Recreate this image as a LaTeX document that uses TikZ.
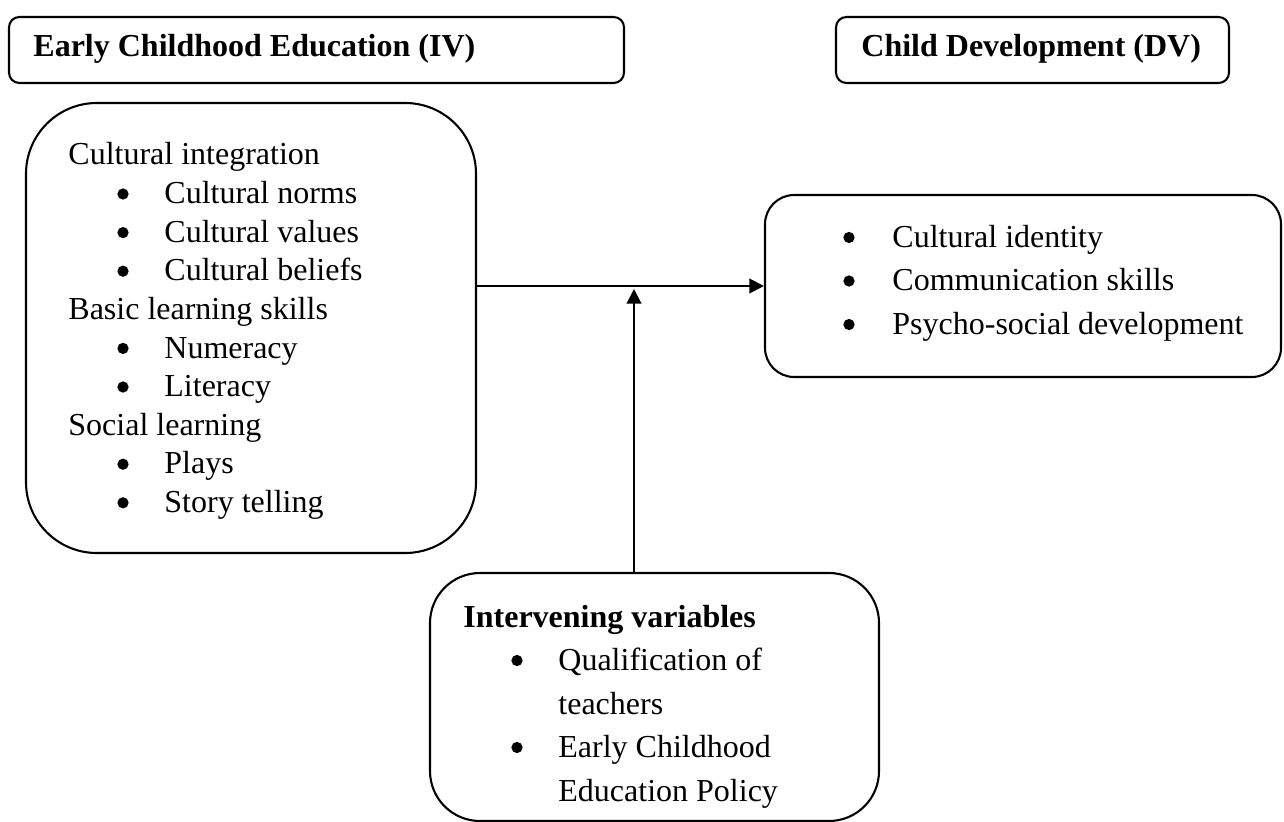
\documentclass[tikz,border=0pt]{standalone}
\usepackage{fontspec}
\setmainfont{Liberation Serif}
\usetikzlibrary{arrows.meta}
\begin{document}
\begin{tikzpicture}[x=0.48pt,y=-0.48pt,
  box/.style={draw, line width=1pt, rounded corners=#1, inner sep=0pt},
  txt/.style={anchor=base west, inner sep=0pt, font=\fontsize{15.36}{18}\selectfont},
  btxt/.style={txt, font=\fontsize{15.36}{18}\selectfont\bfseries},
  bul/.style={circle, fill=black, inner sep=0pt, minimum size=5.4pt},
  arr/.style={line width=1pt, -{Triangle[length=7pt,width=7pt]}}]
\useasboundingbox (0,0) rectangle (1284,822);
\clip (0,0) rectangle (1284,822);
% title boxes
\node[box=5pt, minimum width=615*0.48pt, minimum height=66*0.48pt] (tb1) at (316.5,50) {};
\node[btxt] (t1) at (33,57) {Early Childhood Education (IV)};
\node[box=5pt, minimum width=393*0.48pt, minimum height=66*0.48pt] (tb2) at (1032.5,50) {};
\node[btxt] (t2) at (861,57) {Child Development (DV)};
% left box
\node[box=34pt, minimum width=450*0.48pt, minimum height=450*0.48pt] (lbox) at (251,328) {};
\node[txt] (l1) at (68,165) {Cultural integration};
\node[bul] (lb1) at (123,194) {};
\node[txt] (l2) at (164,203.6) {Cultural norms};
\node[bul] (lb2) at (123,232.6) {};
\node[txt] (l3) at (164,242.2) {Cultural values};
\node[bul] (lb3) at (123,271.2) {};
\node[txt] (l4) at (164,280.8) {Cultural beliefs};
\node[txt] (l5) at (68,319.4) {Basic learning skills};
\node[bul] (lb5) at (123,348.4) {};
\node[txt] (l6) at (164,358) {Numeracy};
\node[bul] (lb6) at (123,387) {};
\node[txt] (l7) at (164,396.6) {Literacy};
\node[txt] (l8) at (68,435.2) {Social learning};
\node[bul] (lb8) at (123,464.2) {};
\node[txt] (l9) at (164,473.8) {Plays};
\node[bul] (lb9) at (123,502.8) {};
\node[txt] (l10) at (164,512.4) {Story telling};
% right box
\node[box=14pt, minimum width=516*0.48pt, minimum height=182*0.48pt] (rbox) at (1023,286) {};
\node[bul] (rb1) at (849,237.5) {};
\node[txt] (r1) at (892,247) {Cultural identity};
\node[bul] (rb2) at (849,281) {};
\node[txt] (r2) at (892,290.5) {Communication skills};
\node[bul] (rb3) at (849,324.5) {};
\node[txt] (r3) at (892,334) {Psycho-social development};
% bottom box
\node[box=24pt, minimum width=449*0.48pt, minimum height=248*0.48pt] (bbox) at (654.5,697) {};
\node[btxt] (i0) at (463,627) {Intervening variables};
\node[bul] (ib1) at (517,660.5) {};
\node[txt] (i1) at (558,670) {Qualification of};
\node[txt] (i2) at (558,714) {teachers};
\node[bul] (ib2) at (517,747.5) {};
\node[txt] (i3) at (558,757) {Early Childhood};
\node[txt] (i4) at (558,801) {Education Policy};
% connectors
\coordinate (mid) at (634,289);
\draw[arr] (lbox.east |- rbox.west) -- (rbox.west);
\draw[arr] (bbox.north -| mid) -- (mid);
\end{tikzpicture}
\end{document}
